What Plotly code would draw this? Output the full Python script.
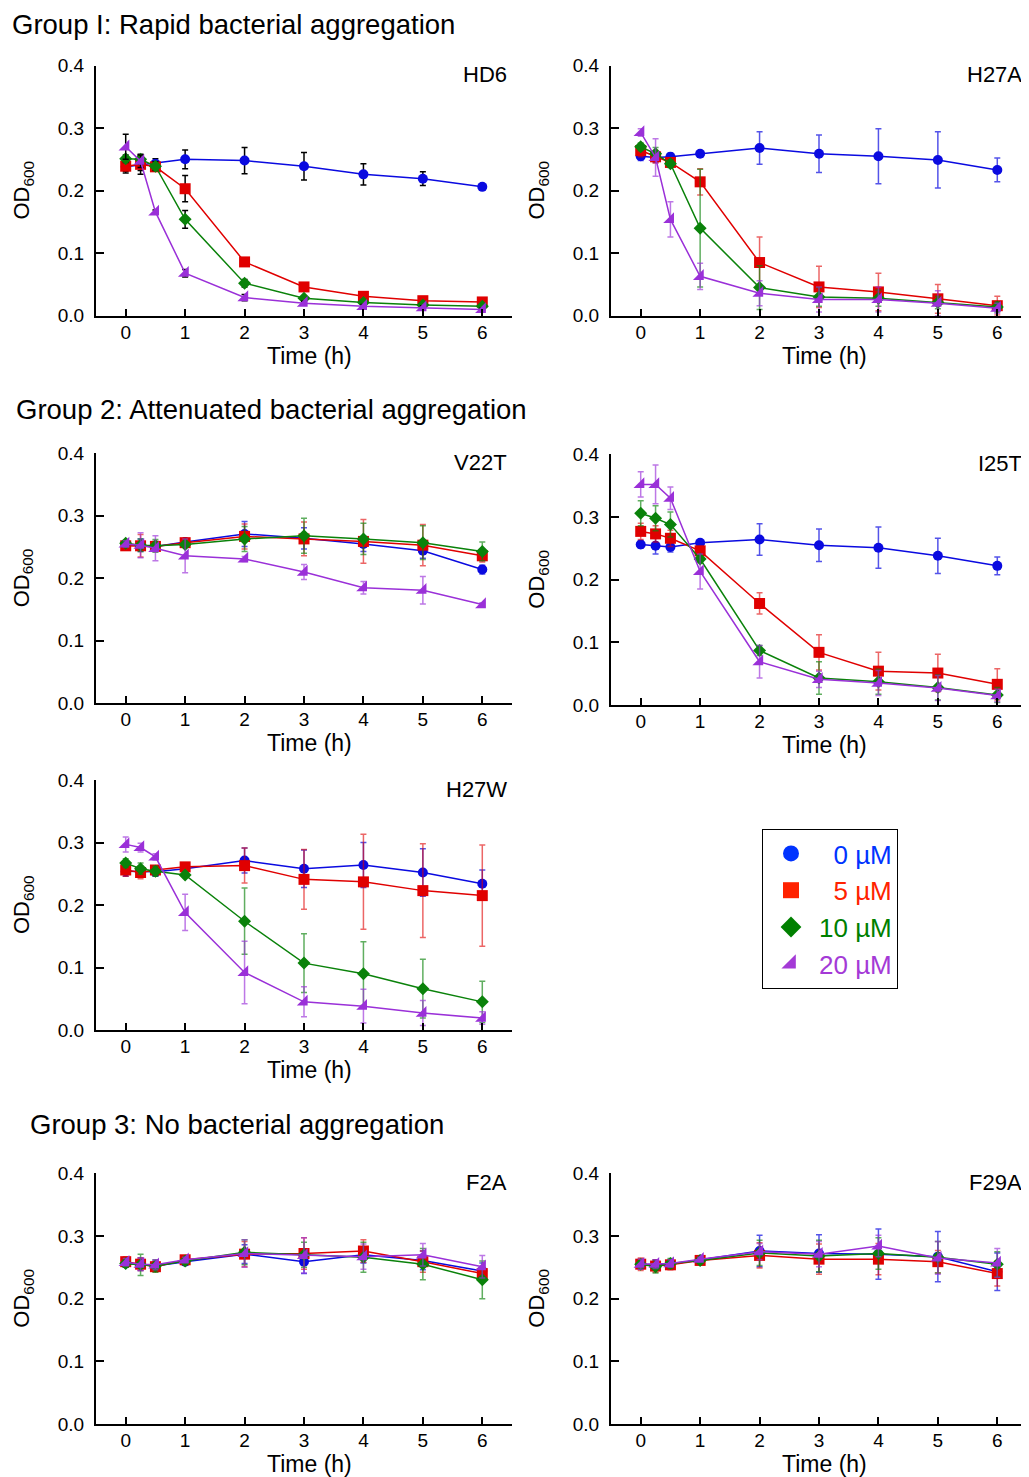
import plotly.graph_objects as go

# ---------------- data ----------------
TIME_H = [0, 0.25, 0.5, 1, 2, 3, 4, 5, 6]
X_TICKS = [0, 1, 2, 3, 4, 5, 6]
Y_TICKS = [0.0, 0.1, 0.2, 0.3, 0.4]
CONC_LABELS = ["0 µM", "5 µM", "10 µM", "20 µM"]
PEPTIDES = ["HD6", "H27A", "V22T", "I25T", "H27W", "F2A", "F29A"]
GROUP_TITLES = ["Group I: Rapid bacterial aggregation",
                "Group 2: Attenuated bacterial aggregation",
                "Group 3: No bacterial aggregation"]

HD6_0 = [0.238, 0.241, 0.243, 0.250, 0.248, 0.239, 0.226, 0.219, 0.206]
HD6_0_SD = [0.010, 0.015, 0.008, 0.015, 0.021, 0.022, 0.017, 0.011, 0.003]
HD6_5 = [0.239, 0.242, 0.238, 0.203, 0.086, 0.046, 0.031, 0.024, 0.022]
HD6_5_SD = [0.008, 0.010, 0.007, 0.021, 0.004, 0.003, 0.004, 0.004, 0.003]
HD6_10 = [0.251, 0.250, 0.239, 0.154, 0.052, 0.028, 0.021, 0.017, 0.015]
HD6_10_SD = [0.006, 0.008, 0.007, 0.014, 0.006, 0.003, 0.003, 0.003, 0.003]
HD6_20 = [0.270, 0.247, 0.166, 0.068, 0.029, 0.020, 0.015, 0.013, 0.010]
HD6_20_SD = [0.020, 0.010, 0.003, 0.006, 0.005, 0.003, 0.003, 0.003, 0.002]

H27A_0 = [0.255, 0.253, 0.254, 0.259, 0.268, 0.259, 0.255, 0.249, 0.233]
H27A_0_SD = [0.007, 0.008, 0.006, 0.003, 0.026, 0.030, 0.044, 0.045, 0.019]
H27A_5 = [0.264, 0.254, 0.245, 0.214, 0.085, 0.046, 0.038, 0.027, 0.016]
H27A_5_SD = [0.010, 0.010, 0.006, 0.021, 0.041, 0.033, 0.030, 0.023, 0.015]
H27A_10 = [0.270, 0.259, 0.243, 0.140, 0.045, 0.030, 0.028, 0.021, 0.014]
H27A_10_SD = [0.006, 0.010, 0.006, 0.094, 0.035, 0.015, 0.013, 0.010, 0.008]
H27A_20 = [0.293, 0.253, 0.154, 0.063, 0.036, 0.026, 0.026, 0.020, 0.012]
H27A_20_SD = [0.006, 0.030, 0.028, 0.021, 0.020, 0.020, 0.020, 0.020, 0.008]

V22T_0 = [0.254, 0.253, 0.251, 0.258, 0.271, 0.264, 0.255, 0.244, 0.214]
V22T_0_SD = [0.006, 0.010, 0.008, 0.004, 0.020, 0.017, 0.012, 0.012, 0.007]
V22T_5 = [0.252, 0.252, 0.251, 0.257, 0.267, 0.263, 0.259, 0.253, 0.236]
V22T_5_SD = [0.005, 0.018, 0.008, 0.004, 0.020, 0.027, 0.035, 0.033, 0.010]
V22T_10 = [0.256, 0.253, 0.252, 0.254, 0.263, 0.268, 0.263, 0.257, 0.243]
V22T_10_SD = [0.005, 0.010, 0.010, 0.004, 0.020, 0.028, 0.025, 0.027, 0.015]
V22T_20 = [0.255, 0.253, 0.248, 0.236, 0.231, 0.210, 0.185, 0.181, 0.158]
V22T_20_SD = [0.005, 0.020, 0.020, 0.027, 0.004, 0.012, 0.010, 0.022, 0.003]

I25T_0 = [0.256, 0.254, 0.252, 0.259, 0.264, 0.255, 0.251, 0.238, 0.222]
I25T_0_SD = [0.006, 0.013, 0.008, 0.003, 0.025, 0.026, 0.033, 0.028, 0.014]
I25T_5 = [0.277, 0.273, 0.266, 0.246, 0.162, 0.084, 0.054, 0.051, 0.033]
I25T_5_SD = [0.013, 0.013, 0.013, 0.004, 0.017, 0.028, 0.030, 0.030, 0.025]
I25T_10 = [0.306, 0.298, 0.288, 0.233, 0.087, 0.043, 0.037, 0.028, 0.016]
I25T_10_SD = [0.020, 0.020, 0.020, 0.005, 0.008, 0.026, 0.020, 0.020, 0.012]
I25T_20 = [0.352, 0.352, 0.330, 0.213, 0.069, 0.041, 0.035, 0.027, 0.015]
I25T_20_SD = [0.020, 0.031, 0.018, 0.028, 0.026, 0.013, 0.020, 0.020, 0.010]

H27W_0 = [0.254, 0.253, 0.253, 0.258, 0.271, 0.258, 0.264, 0.252, 0.234]
H27W_0_SD = [0.008, 0.008, 0.007, 0.004, 0.020, 0.030, 0.036, 0.038, 0.022]
H27W_5 = [0.256, 0.252, 0.256, 0.261, 0.263, 0.241, 0.237, 0.223, 0.215]
H27W_5_SD = [0.010, 0.010, 0.005, 0.004, 0.028, 0.048, 0.076, 0.075, 0.081]
H27W_10 = [0.267, 0.258, 0.254, 0.248, 0.174, 0.107, 0.090, 0.066, 0.045]
H27W_10_SD = [0.007, 0.009, 0.008, 0.004, 0.053, 0.047, 0.051, 0.047, 0.033]
H27W_20 = [0.297, 0.292, 0.277, 0.188, 0.092, 0.045, 0.038, 0.027, 0.019]
H27W_20_SD = [0.012, 0.007, 0.005, 0.029, 0.050, 0.024, 0.027, 0.020, 0.010]

F2A_0 = [0.256, 0.255, 0.252, 0.259, 0.271, 0.259, 0.270, 0.261, 0.244]
F2A_0_SD = [0.006, 0.010, 0.008, 0.004, 0.015, 0.019, 0.013, 0.015, 0.013]
F2A_5 = [0.259, 0.255, 0.251, 0.262, 0.271, 0.272, 0.276, 0.259, 0.240]
F2A_5_SD = [0.008, 0.010, 0.008, 0.006, 0.020, 0.025, 0.018, 0.017, 0.010]
F2A_10 = [0.256, 0.254, 0.252, 0.260, 0.274, 0.270, 0.266, 0.255, 0.230]
F2A_10_SD = [0.006, 0.017, 0.010, 0.004, 0.020, 0.020, 0.024, 0.025, 0.030]
F2A_20 = [0.258, 0.255, 0.254, 0.262, 0.272, 0.269, 0.267, 0.270, 0.251]
F2A_20_SD = [0.006, 0.010, 0.008, 0.004, 0.022, 0.028, 0.020, 0.018, 0.018]

F29A_0 = [0.255, 0.254, 0.255, 0.262, 0.276, 0.272, 0.271, 0.267, 0.243]
F29A_0_SD = [0.008, 0.008, 0.006, 0.003, 0.025, 0.030, 0.040, 0.040, 0.030]
F29A_5 = [0.255, 0.252, 0.254, 0.261, 0.269, 0.263, 0.263, 0.259, 0.240]
F29A_5_SD = [0.010, 0.010, 0.008, 0.003, 0.020, 0.024, 0.025, 0.018, 0.020]
F29A_10 = [0.255, 0.251, 0.256, 0.261, 0.273, 0.268, 0.272, 0.266, 0.255]
F29A_10_SD = [0.006, 0.010, 0.008, 0.003, 0.020, 0.025, 0.025, 0.025, 0.020]
F29A_20 = [0.255, 0.255, 0.256, 0.263, 0.275, 0.271, 0.284, 0.265, 0.257]
F29A_20_SD = [0.008, 0.007, 0.006, 0.003, 0.013, 0.020, 0.017, 0.026, 0.023]

MEANS = {
    "HD6": [HD6_0, HD6_5, HD6_10, HD6_20],
    "H27A": [H27A_0, H27A_5, H27A_10, H27A_20],
    "V22T": [V22T_0, V22T_5, V22T_10, V22T_20],
    "I25T": [I25T_0, I25T_5, I25T_10, I25T_20],
    "H27W": [H27W_0, H27W_5, H27W_10, H27W_20],
    "F2A": [F2A_0, F2A_5, F2A_10, F2A_20],
    "F29A": [F29A_0, F29A_5, F29A_10, F29A_20],
}
SDS = {
    "HD6": [HD6_0_SD, HD6_5_SD, HD6_10_SD, HD6_20_SD],
    "H27A": [H27A_0_SD, H27A_5_SD, H27A_10_SD, H27A_20_SD],
    "V22T": [V22T_0_SD, V22T_5_SD, V22T_10_SD, V22T_20_SD],
    "I25T": [I25T_0_SD, I25T_5_SD, I25T_10_SD, I25T_20_SD],
    "H27W": [H27W_0_SD, H27W_5_SD, H27W_10_SD, H27W_20_SD],
    "F2A": [F2A_0_SD, F2A_5_SD, F2A_10_SD, F2A_20_SD],
    "F29A": [F29A_0_SD, F29A_5_SD, F29A_10_SD, F29A_20_SD],
}

# ---------------- style / layout ----------------
PAGE_MARGIN = 8                     # default body margin of the html page
W, H = 1029 - PAGE_MARGIN, 1477 - PAGE_MARGIN
FONT = "Liberation Sans, Arial, Helvetica, sans-serif"
COLORS = ["#0a0ae0", "#e00000", "#0a820a", "#9a30d8"]
ERR_COLORS = ["rgba(10,10,224,0.7)", "rgba(224,0,0,0.6)", "rgba(10,130,10,0.65)", "rgba(154,48,216,0.65)"]
LEGEND_COLORS = ["#0033ff", "#ff2200", "#008000", "#a43ad6"]
SYMBOLS = ["circle", "square", "diamond", "triangle-se"]
SIZES = [10, 11, 10, 12]


def fx(px):
    return (px - PAGE_MARGIN) / W


def fy(py):
    return 1 - (py - PAGE_MARGIN) / H


# panel boxes in screen pixels: (left, right, top, bottom)
BOXES = {
    "HD6": (96, 512, 65.5, 315.7),
    "H27A": (611, 1027, 65.5, 315.7),
    "V22T": (96, 512, 453.3, 703.3),
    "I25T": (611, 1027, 454.3, 705.0),
    "H27W": (96, 512, 780.0, 1030.0),
    "F2A": (96, 512, 1173.3, 1424.0),
    "F29A": (611, 1027, 1173.3, 1424.0),
}
TITLE_POS = [(10, 24.5), (14, 409), (28, 1124)]

fig = go.Figure()
layout = dict(
    width=W, height=H, margin=dict(l=0, r=0, t=0, b=0, pad=0, autoexpand=False),
    paper_bgcolor="white", plot_bgcolor="white",
    font=dict(family=FONT, color="black"),
    showlegend=True,
)
annotations = []

for i, pep in enumerate(PEPTIDES):
    n = "" if i == 0 else str(i + 1)
    xa, ya = "x" + n, "y" + n
    l, r, t, b = BOXES[pep]
    layout["xaxis" + n] = dict(
        domain=[fx(l), fx(r)], anchor=ya, range=[-0.5, 6.5],
        tickvals=X_TICKS, ticks="inside", ticklen=7, tickwidth=2, tickcolor="black",
        showline=True, linewidth=2, linecolor="black", showgrid=False, zeroline=False,
        tickfont=dict(size=19, family=FONT), fixedrange=True, automargin=False,
        ticklabelstandoff=-2,
    )
    layout["yaxis" + n] = dict(
        domain=[fy(b), fy(t)], anchor=xa, range=[0, 0.4],
        tickvals=Y_TICKS, tickformat=".1f", ticks="inside", ticklen=8, tickwidth=2,
        tickcolor="black", showline=True, linewidth=2, linecolor="black",
        showgrid=False, zeroline=False, tickfont=dict(size=19, family=FONT),
        ticklabelstandoff=6, fixedrange=True, automargin=False,
    )
    for k in range(4):
        ecol = "black" if pep == "HD6" else ERR_COLORS[k]
        fig.add_trace(go.Scatter(
            x=TIME_H, y=MEANS[pep][k], xaxis=xa, yaxis=ya,
            mode="lines+markers", name=CONC_LABELS[k], showlegend=False,
            line=dict(color=COLORS[k], width=1.5),
            marker=dict(color=COLORS[k], symbol=SYMBOLS[k], size=SIZES[k], line=dict(width=0)),
            error_y=dict(type="data", array=SDS[pep][k], visible=True, color=ecol,
                         thickness=1.5, width=3),
            cliponaxis=False,
        ))
    xd, yd = xa + " domain", ya + " domain"
    annotations.append(dict(text=pep, xref=xd, yref=yd, x=1, y=1, xanchor="right",
                            yanchor="middle", xshift=-3, yshift=-9, showarrow=False,
                            font=dict(size=22, family=FONT)))
    annotations.append(dict(text="OD<sub>600</sub>", xref=xd, yref=yd, x=0, y=0.5,
                            xanchor="center", yanchor="middle", xshift=-73, textangle=-90,
                            showarrow=False, font=dict(size=22, family=FONT)))
    annotations.append(dict(text="Time (h)", xref=xd, yref=yd, x=0.5, y=0,
                            xanchor="center", yanchor="middle", xshift=5, yshift=-40,
                            showarrow=False, font=dict(size=23, family=FONT)))

for (px, py), title in zip(TITLE_POS, GROUP_TITLES):
    annotations.append(dict(text=title, xref="paper", yref="paper", x=fx(px), y=fy(py),
                            xanchor="left", yanchor="middle", showarrow=False,
                            font=dict(size=27.5, family=FONT)))

# legend-only entries (marker symbols without lines, like the reference key)
pad = ["\u2007", "\u2007", "", ""]
for k in range(4):
    fig.add_trace(go.Scatter(
        x=[None], y=[None], mode="markers", legendgroup=f"g{k}",
        name=f'<span style="color:{LEGEND_COLORS[k]}">{pad[k]}{CONC_LABELS[k]}</span>',
        marker=dict(color=LEGEND_COLORS[k], symbol=SYMBOLS[k], size=22, line=dict(width=0)),
        showlegend=True, hoverinfo="skip",
    ))

layout["legend"] = dict(
    x=fx(762), y=fy(829), xanchor="left", yanchor="top",
    bordercolor="black", borderwidth=1, bgcolor="white",
    font=dict(size=26, family=FONT), itemwidth=46, tracegroupgap=0,
    itemsizing="trace",
)
layout["annotations"] = annotations
fig.update_layout(**layout)
fig.write_html("out.html")
